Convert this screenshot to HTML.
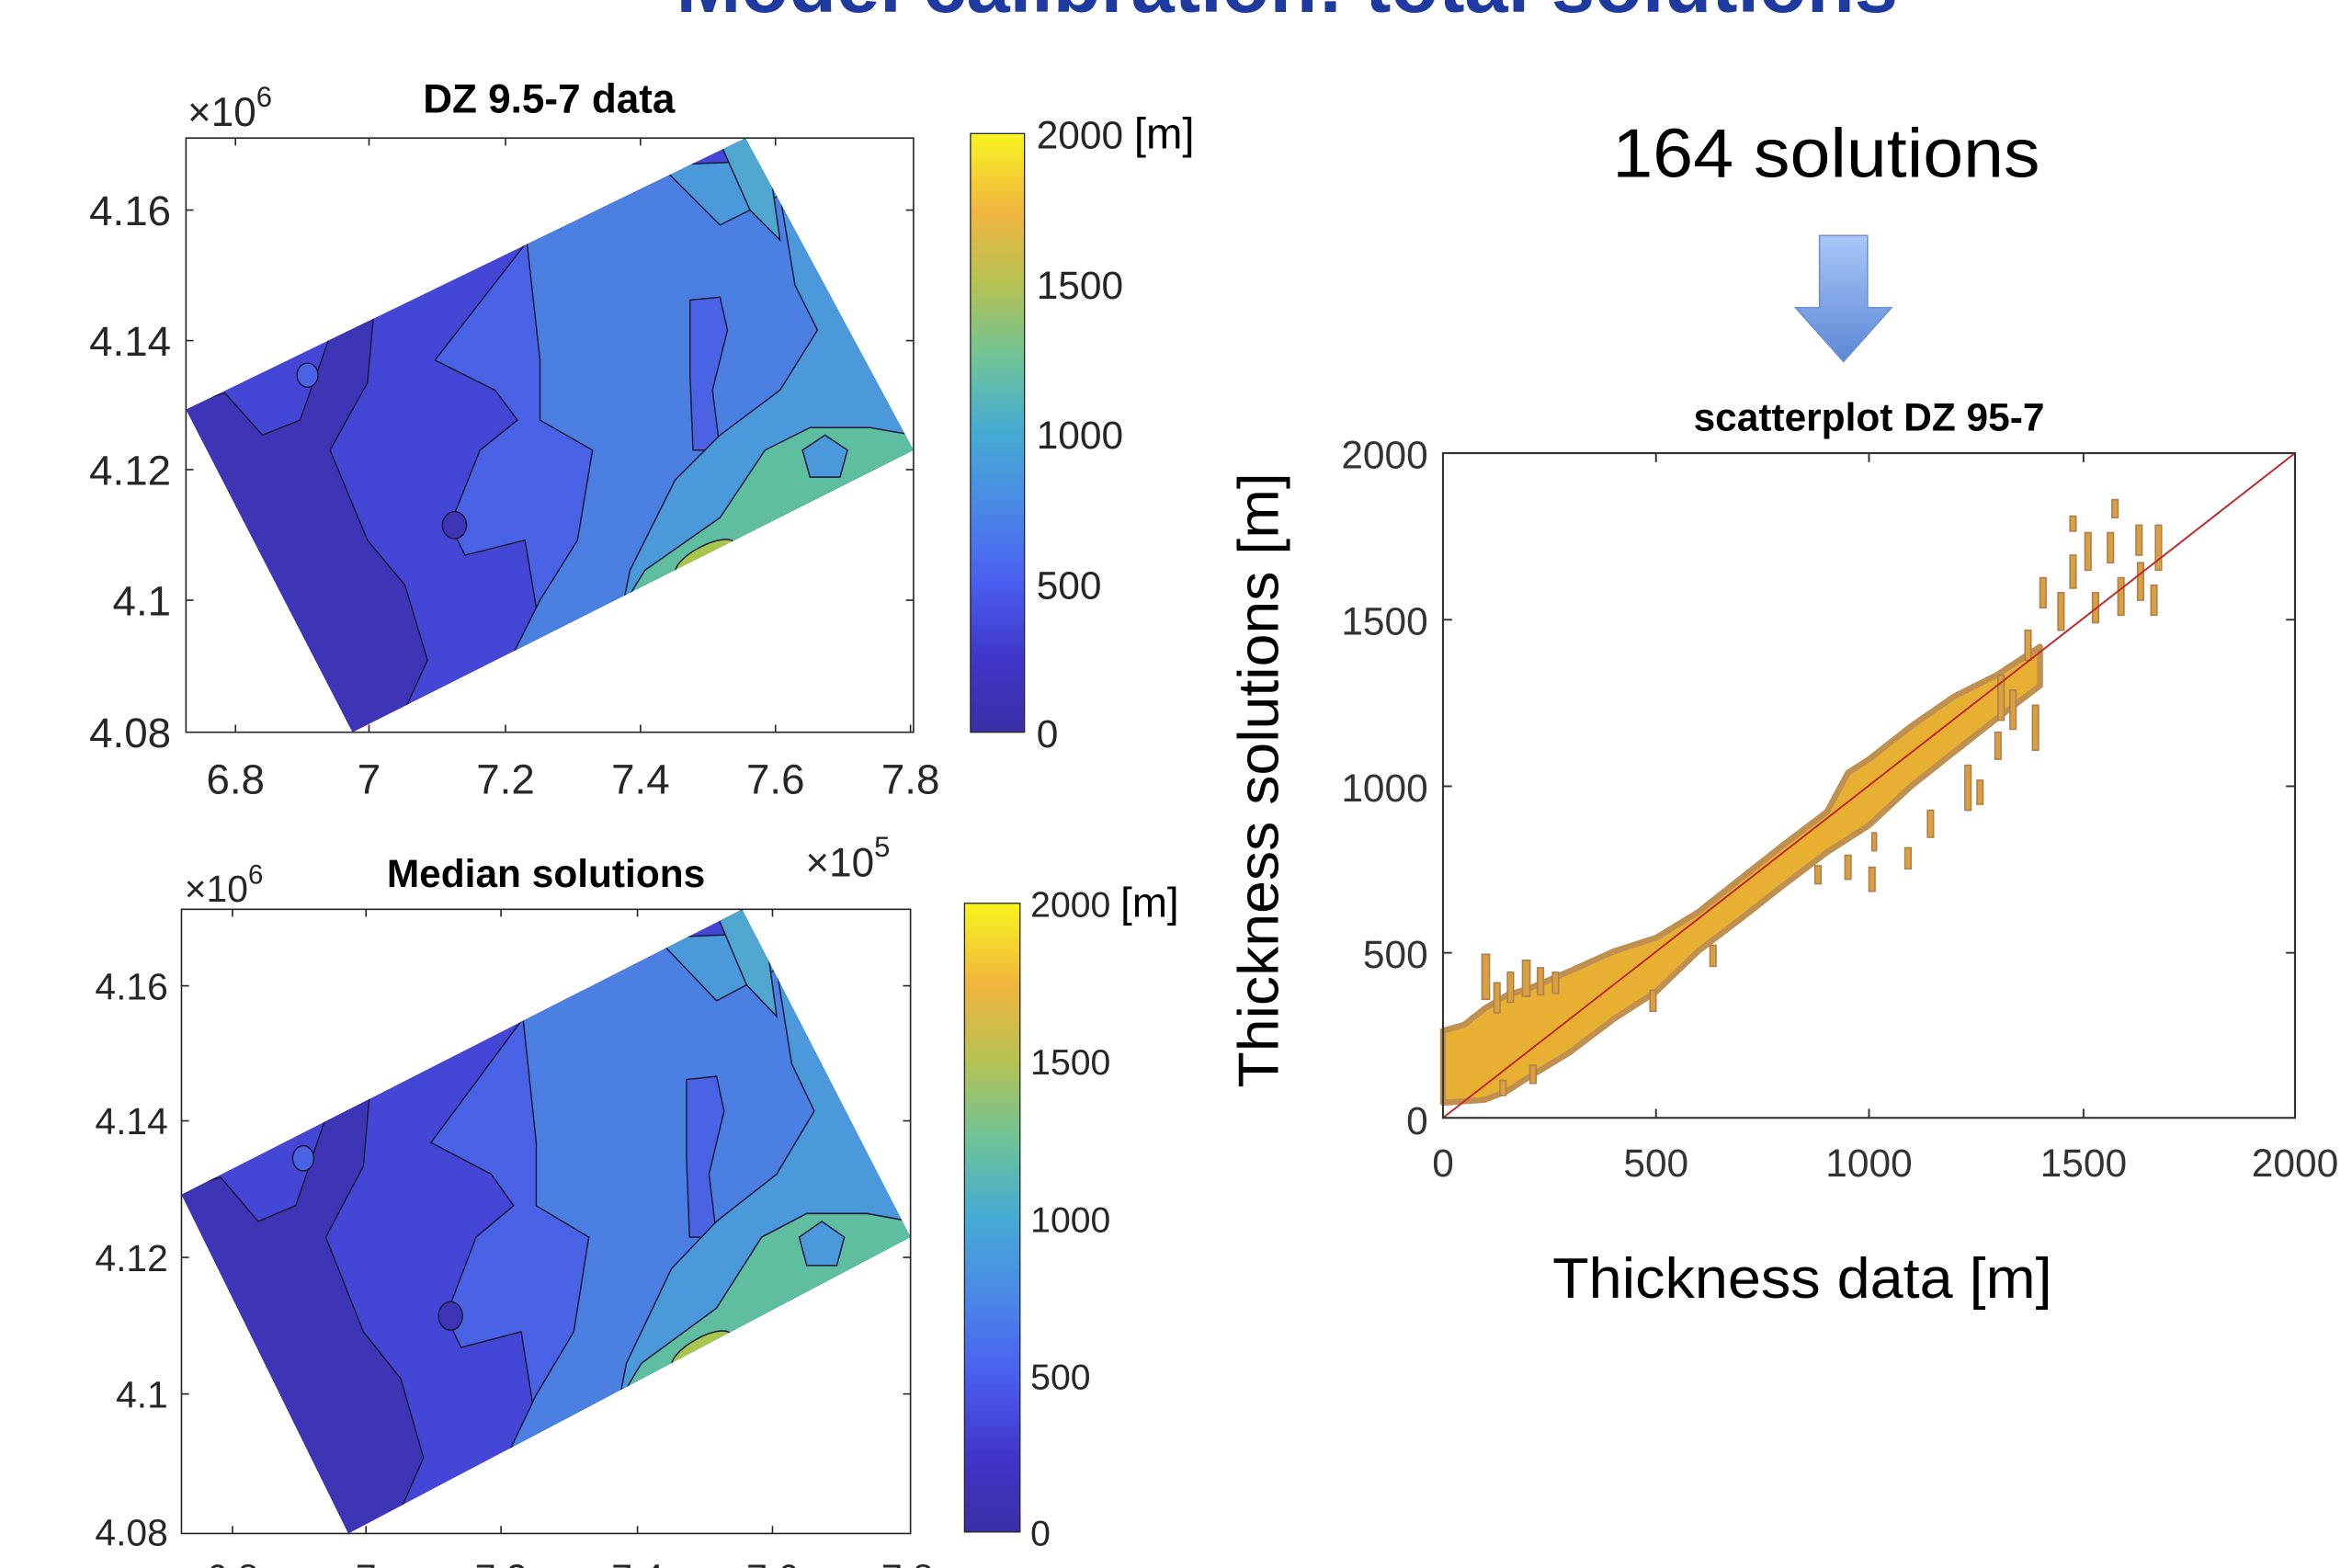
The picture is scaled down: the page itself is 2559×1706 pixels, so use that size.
<!DOCTYPE html>
<html><head><meta charset="utf-8"><style>
html,body{margin:0;padding:0;background:#fff;}
svg{display:block;}
text{font-family:"Liberation Sans",Arial,sans-serif;}
</style></head><body>
<svg width="2559" height="1706" viewBox="0 0 1568 1045" preserveAspectRatio="none" xmlns="http://www.w3.org/2000/svg">
<defs>
<linearGradient id="parula" x1="0" y1="1" x2="0" y2="0">
<stop offset="0" stop-color="#3b2fa6"/>
<stop offset="0.12" stop-color="#4035c8"/>
<stop offset="0.25" stop-color="#4a5ff0"/>
<stop offset="0.38" stop-color="#4a8ae6"/>
<stop offset="0.5" stop-color="#45aad4"/>
<stop offset="0.62" stop-color="#6cc39a"/>
<stop offset="0.75" stop-color="#b6c253"/>
<stop offset="0.87" stop-color="#f0b53e"/>
<stop offset="1" stop-color="#f8f420"/>
</linearGradient>
<linearGradient id="arrow" x1="0" y1="0" x2="0" y2="1">
<stop offset="0" stop-color="#a9c6f7"/>
<stop offset="1" stop-color="#5b88d6"/>
</linearGradient>
<clipPath id="mclip"><polygon points="124,273 497,92 609,300 235,488"/></clipPath>
<g id="map">
<g clip-path="url(#mclip)" stroke="#1a1a3a" stroke-width="0.9">
<rect x="110" y="80" width="520" height="420" fill="#4446d6" stroke="none"/>
<polygon fill="#3d35b6" points="120,270 150,262 175,290 200,280 225,210 250,200 245,255 220,300 245,360 270,390 285,440 262,490 120,490"/>
<polygon fill="#4a62e6" points="290,240 330,260 345,280 320,300 300,350 310,370 350,360 360,420 300,470 700,470 700,140 360,150"/>
<polygon fill="#4b7fe2" points="350,150 360,240 360,280 395,300 385,360 360,400 340,440 700,440 700,110 420,110"/>
<polygon fill="#4a63e4" points="460,200 480,198 485,220 475,260 480,300 462,300 460,250"/>
<polygon fill="#4b98da" points="440,110 480,150 520,130 530,190 545,220 520,260 480,290 450,320 420,380 410,430 700,430 700,100"/>
<polygon fill="#4fa7d0" points="480,95 500,140 520,160 510,90"/>
<polygon fill="#5fbea0" points="405,420 430,380 480,345 510,300 540,285 580,285 609,290 612,320 470,420"/>
<polygon fill="#4b98da" points="535,300 550,290 565,300 560,318 540,318"/>
<ellipse cx="470" cy="372" rx="22" ry="8" fill="#a8c64c" transform="rotate(-28 470 372)"/>
<ellipse cx="303" cy="350" rx="8" ry="9" fill="#3d35b6"/>
<ellipse cx="205" cy="250" rx="7" ry="8" fill="#4a62e6"/>
</g>
</g>
</defs>

<text x="858" y="8" font-size="52" font-weight="bold" fill="#1f3a9e" text-anchor="middle">Model calibration: total solutions</text>

<!-- TOP MAP -->
<use href="#map"/>
<rect x="124" y="92" width="485" height="396" fill="none" stroke="#262626" stroke-width="1"/>
<g stroke="#262626" stroke-width="1">
<line x1="157" y1="488" x2="157" y2="483"/><line x1="246" y1="488" x2="246" y2="483"/><line x1="337" y1="488" x2="337" y2="483"/><line x1="427" y1="488" x2="427" y2="483"/><line x1="517" y1="488" x2="517" y2="483"/><line x1="607" y1="488" x2="607" y2="483"/>
<line x1="157" y1="92" x2="157" y2="97"/><line x1="246" y1="92" x2="246" y2="97"/><line x1="337" y1="92" x2="337" y2="97"/><line x1="427" y1="92" x2="427" y2="97"/><line x1="517" y1="92" x2="517" y2="97"/>
<line x1="124" y1="140" x2="129" y2="140"/><line x1="124" y1="227" x2="129" y2="227"/><line x1="124" y1="313" x2="129" y2="313"/><line x1="124" y1="400" x2="129" y2="400"/>
<line x1="609" y1="140" x2="604" y2="140"/><line x1="609" y1="227" x2="604" y2="227"/><line x1="609" y1="313" x2="604" y2="313"/><line x1="609" y1="400" x2="604" y2="400"/>
</g>
<g font-size="28" fill="#262626" text-anchor="end">
<text x="114" y="150">4.16</text><text x="114" y="237">4.14</text><text x="114" y="323">4.12</text><text x="114" y="410">4.1</text><text x="114" y="498">4.08</text>
</g>
<g font-size="28" fill="#262626" text-anchor="middle">
<text x="157" y="529">6.8</text><text x="246" y="529">7</text><text x="337" y="529">7.2</text><text x="427" y="529">7.4</text><text x="517" y="529">7.6</text><text x="607" y="529">7.8</text>
</g>
<text x="125" y="84" font-size="27" fill="#262626">×10<tspan font-size="19" dy="-13">6</tspan></text>
<text x="366" y="75" font-size="27" font-weight="bold" fill="#000" text-anchor="middle">DZ 9.5-7 data</text>
<rect x="647" y="89" width="36" height="399" fill="url(#parula)" stroke="#262626" stroke-width="0.8"/>
<g font-size="26" fill="#262626">
<text x="691" y="99">2000 <tspan font-size="29" fill="#000">[m]</tspan></text>
<text x="691" y="199">1500</text><text x="691" y="299">1000</text><text x="691" y="399">500</text><text x="691" y="498">0</text>
</g>

<!-- BOTTOM MAP -->
<g transform="translate(121 606) scale(1.002 1.0505) translate(-124 -92)"><use href="#map"/></g>
<rect x="121" y="606" width="486" height="416" fill="none" stroke="#262626" stroke-width="1"/>
<g stroke="#262626" stroke-width="1">
<line x1="155" y1="1022" x2="155" y2="1017"/><line x1="244" y1="1022" x2="244" y2="1017"/><line x1="334" y1="1022" x2="334" y2="1017"/><line x1="425" y1="1022" x2="425" y2="1017"/><line x1="515" y1="1022" x2="515" y2="1017"/>
<line x1="155" y1="606" x2="155" y2="611"/><line x1="244" y1="606" x2="244" y2="611"/><line x1="334" y1="606" x2="334" y2="611"/><line x1="425" y1="606" x2="425" y2="611"/><line x1="515" y1="606" x2="515" y2="611"/>
<line x1="121" y1="657" x2="126" y2="657"/><line x1="121" y1="747" x2="126" y2="747"/><line x1="121" y1="838" x2="126" y2="838"/><line x1="121" y1="929" x2="126" y2="929"/>
<line x1="607" y1="657" x2="602" y2="657"/><line x1="607" y1="747" x2="602" y2="747"/><line x1="607" y1="838" x2="602" y2="838"/><line x1="607" y1="929" x2="602" y2="929"/>
</g>
<g font-size="25" fill="#262626" text-anchor="end">
<text x="112" y="666">4.16</text><text x="112" y="756">4.14</text><text x="112" y="847">4.12</text><text x="112" y="938">4.1</text><text x="112" y="1030">4.08</text>
</g>
<g font-size="25" fill="#262626" text-anchor="middle">
<text x="155" y="1060">6.8</text><text x="244" y="1060">7</text><text x="334" y="1060">7.2</text><text x="425" y="1060">7.4</text><text x="515" y="1060">7.6</text><text x="605" y="1060">7.8</text>
</g>
<text x="123" y="601" font-size="25" fill="#262626">×10<tspan font-size="18" dy="-12">6</tspan></text>
<text x="537" y="584" font-size="27" fill="#262626">×10<tspan font-size="19" dy="-13">5</tspan></text>
<text x="364" y="591" font-size="26" font-weight="bold" fill="#000" text-anchor="middle">Median solutions</text>
<rect x="643" y="602" width="37" height="419" fill="url(#parula)" stroke="#262626" stroke-width="0.8"/>
<g font-size="24" fill="#262626">
<text x="687" y="611">2000 <tspan font-size="28" fill="#000">[m]</tspan></text>
<text x="687" y="716">1500</text><text x="687" y="821">1000</text><text x="687" y="926">500</text><text x="687" y="1030">0</text>
</g>

<!-- RIGHT -->
<text x="1075" y="118" font-size="46" fill="#000" textLength="285" lengthAdjust="spacingAndGlyphs">164 solutions</text>
<path d="M1213,157 H1245 V205 H1261 L1229,241 L1197,205 H1213 Z" fill="url(#arrow)" stroke="#6f93d0" stroke-width="1"/>
<text x="1246" y="287" font-size="26" font-weight="bold" fill="#000" text-anchor="middle">scatterplot DZ 95-7</text>

<!-- scatter cloud -->
<polygon fill="#e8b032" stroke="#c09050" stroke-width="4" stroke-linejoin="round" points="962,687 976,683 990,672 1005,663 1019,659 1047,647 1076,634 1104,625 1132,608 1161,585 1189,563 1218,541 1232,515 1246,506 1274,484 1303,464 1331,450 1360,431 1360,457 1331,479 1303,501 1274,524 1246,550 1218,568 1189,590 1161,612 1132,634 1104,661 1076,679 1047,701 1019,718 1005,727 990,733 962,735"/>
<g fill="#d9a040" stroke="#b08050" stroke-width="1">
<rect x="988" y="636" width="5" height="30"/><rect x="996" y="655" width="4" height="20"/><rect x="1005" y="648" width="4" height="20"/><rect x="1015" y="640" width="5" height="24"/><rect x="1025" y="645" width="4" height="18"/><rect x="1035" y="648" width="4" height="14"/>
<rect x="1000" y="720" width="4" height="10"/><rect x="1020" y="710" width="4" height="12"/>
<rect x="1100" y="660" width="4" height="14"/><rect x="1140" y="630" width="4" height="14"/>
<rect x="1210" y="577" width="4" height="12"/><rect x="1230" y="570" width="4" height="16"/>
<rect x="1246" y="578" width="4" height="16"/><rect x="1270" y="565" width="4" height="14"/><rect x="1285" y="540" width="4" height="18"/><rect x="1310" y="510" width="4" height="30"/>
<rect x="1332" y="450" width="4" height="30"/><rect x="1340" y="460" width="4" height="26"/><rect x="1355" y="470" width="4" height="30"/><rect x="1350" y="420" width="4" height="20"/>
<rect x="1360" y="385" width="4" height="20"/><rect x="1372" y="395" width="4" height="25"/><rect x="1380" y="370" width="4" height="22"/><rect x="1390" y="355" width="4" height="25"/>
<rect x="1380" y="344" width="4" height="10"/><rect x="1408" y="333" width="4" height="12"/><rect x="1405" y="355" width="4" height="20"/><rect x="1412" y="385" width="4" height="25"/>
<rect x="1395" y="395" width="4" height="20"/><rect x="1424" y="350" width="4" height="20"/><rect x="1425" y="375" width="4" height="25"/><rect x="1437" y="350" width="4" height="30"/>
<rect x="1434" y="390" width="4" height="20"/><rect x="1318" y="520" width="4" height="16"/><rect x="1330" y="488" width="4" height="18"/><rect x="1248" y="555" width="3" height="12"/>
</g>
<line x1="962" y1="745" x2="1530" y2="302" stroke="#c0282a" stroke-width="1.2"/>
<rect x="962" y="302" width="568" height="443" fill="none" stroke="#333" stroke-width="1.3"/>
<g stroke="#333" stroke-width="1.2">
<line x1="1104" y1="745" x2="1104" y2="739"/><line x1="1246" y1="745" x2="1246" y2="739"/><line x1="1389" y1="745" x2="1389" y2="739"/>
<line x1="1104" y1="302" x2="1104" y2="308"/><line x1="1246" y1="302" x2="1246" y2="308"/><line x1="1389" y1="302" x2="1389" y2="308"/>
<line x1="962" y1="413" x2="968" y2="413"/><line x1="962" y1="524" x2="968" y2="524"/><line x1="962" y1="635" x2="968" y2="635"/>
<line x1="1530" y1="413" x2="1524" y2="413"/><line x1="1530" y1="524" x2="1524" y2="524"/><line x1="1530" y1="635" x2="1524" y2="635"/>
</g>
<g font-size="26" fill="#333" text-anchor="end">
<text x="952" y="312">2000</text><text x="952" y="423">1500</text><text x="952" y="534">1000</text><text x="952" y="645">500</text><text x="952" y="756">0</text>
</g>
<g font-size="26" fill="#333" text-anchor="middle">
<text x="962" y="784">0</text><text x="1104" y="784">500</text><text x="1246" y="784">1000</text><text x="1389" y="784">1500</text><text x="1530" y="784">2000</text>
</g>
<text transform="translate(852 725) rotate(-90)" font-family="'DejaVu Sans',sans-serif" font-size="38" fill="#000" textLength="410" lengthAdjust="spacingAndGlyphs">Thickness solutions [m]</text>
<text x="1035" y="865" font-family="'DejaVu Sans',sans-serif" font-size="38" fill="#000" textLength="333" lengthAdjust="spacingAndGlyphs">Thickness data [m]</text>
</svg>
</body></html>
